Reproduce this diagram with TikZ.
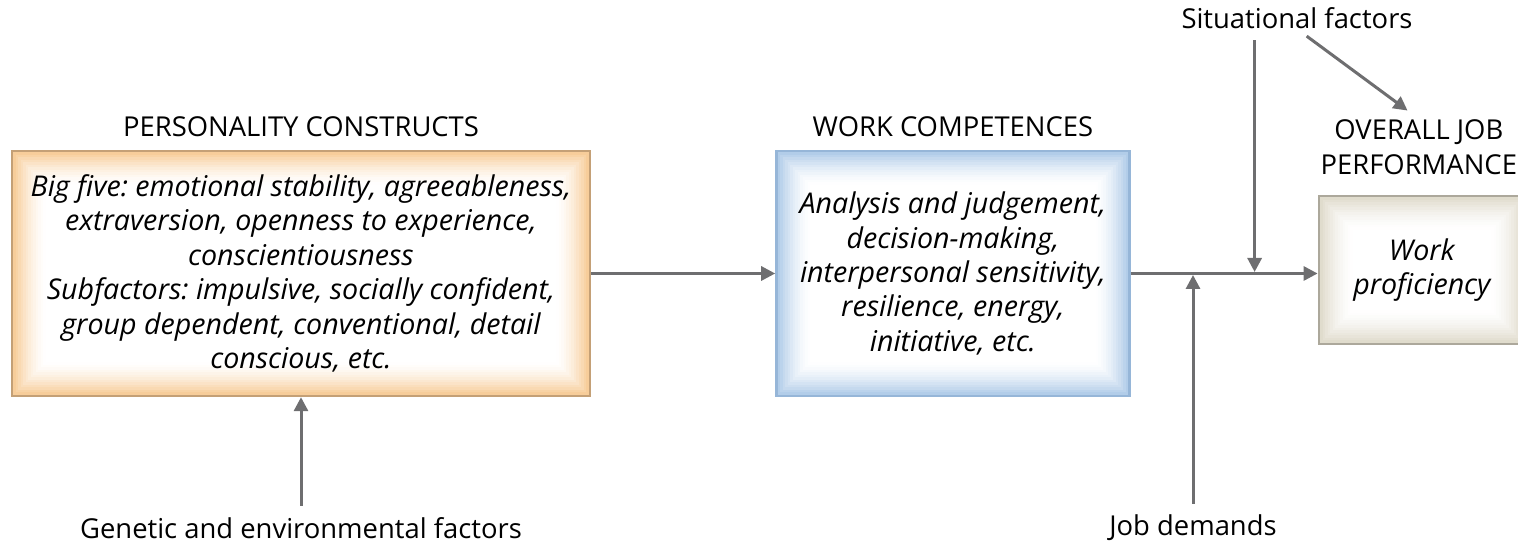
\documentclass[tikz,border=0pt]{standalone}
\usepackage{fontspec}
\setmainfont{Open Sans}
\frenchspacing
\usetikzlibrary{positioning,arrows.meta,backgrounds}
\definecolor{persline}{RGB}{196,160,118}
\definecolor{persglow}{RGB}{246,198,140}
\definecolor{compline}{RGB}{150,182,216}
\definecolor{compglow}{RGB}{168,198,230}
\definecolor{perfline}{RGB}{172,168,155}
\definecolor{perfglow}{RGB}{220,215,198}
\definecolor{arrgray}{RGB}{110,110,112}

\begin{document}
\begin{tikzpicture}[x=0.5pt, y=0.5pt, node distance=6.5pt,
  box/.style = {draw, line width=1.2pt, inner sep=0pt, align=center, font=\itshape\fontsize{14.3}{17.2}\selectfont},
  head/.style = {inner sep=0pt, align=center, font=\fontsize{13.7}{17.5}\selectfont},
  arr/.style = {arrgray, line width=1.5pt, -{Triangle[length=7pt,width=7pt]}}]
\useasboundingbox (0,0) rectangle (1518,544);

\node[box, draw=persline, minimum width=289pt, minimum height=122.5pt] (pers) at (301,270.5)
  {Big five: emotional stability, agreeableness,\\ extraversion, openness to experience,\\ conscientiousness\\
   Subfactors: impulsive, socially confident,\\ group dependent, conventional, detail\\ conscious, etc.};
\node[box, draw=compline, minimum width=176.5pt, minimum height=122.5pt] (comp) [right=92pt of pers]
  {Analysis and judgement,\\ decision-making,\\ interpersonal sensitivity,\\ resilience, energy,\\ initiative, etc.};
\node[box, draw=perfline, minimum width=103pt, minimum height=74pt, yshift=1.75pt] (perf) [right=93.5pt of comp] {Work\\ proficiency};

\node[head] (perstitle) [above=6.5pt of pers] {PERSONALITY CONSTRUCTS};
\node[head] (comptitle) [above=6.5pt of comp] {WORK COMPETENCES};
\node[head] (perftitle) [above=10pt of perf, xshift=-1.5pt] {OVERALL JOB\\ PERFORMANCE};

\node[head] (sit) at (1297,526) {Situational factors};
\node[head] (gen) at (301,16) {Genetic and environmental factors};
\node[head] (jobs) at (1193,16) {Job demands};
\coordinate[right=62pt of comp.east] (split);

\begin{scope}[on background layer]
\foreach \n/\c in {pers/persglow, comp/compglow, perf/perfglow}
  \foreach \i in {0,...,14} {
    \pgfmathtruncatemacro\p{100*(1-\i/14)^1.6}
    \fill[\c!\p!white] ([shift={(\i*2.5,-\i*2.5)}]\n.north west) rectangle ([shift={(-\i*2.5,\i*2.5)}]\n.south east);
  }
\end{scope}

\draw[arr] (pers) -- (comp);
\draw[arr] (comp.east) -- (comp.east -| perf.west);
\draw[arr, shorten <=5.5pt, shorten >=0.75pt] (split |- sit.south) -- (split);
\draw[arr, shorten <=6pt, shorten >=7pt] (sit.south) -- (perftitle.north);
\draw[arr, shorten <=5.5pt, shorten >=0.75pt] (jobs) -- (jobs |- comp.east);
\draw[arr, shorten <=5.5pt] (gen) -- (pers);
\end{tikzpicture}
\end{document}
